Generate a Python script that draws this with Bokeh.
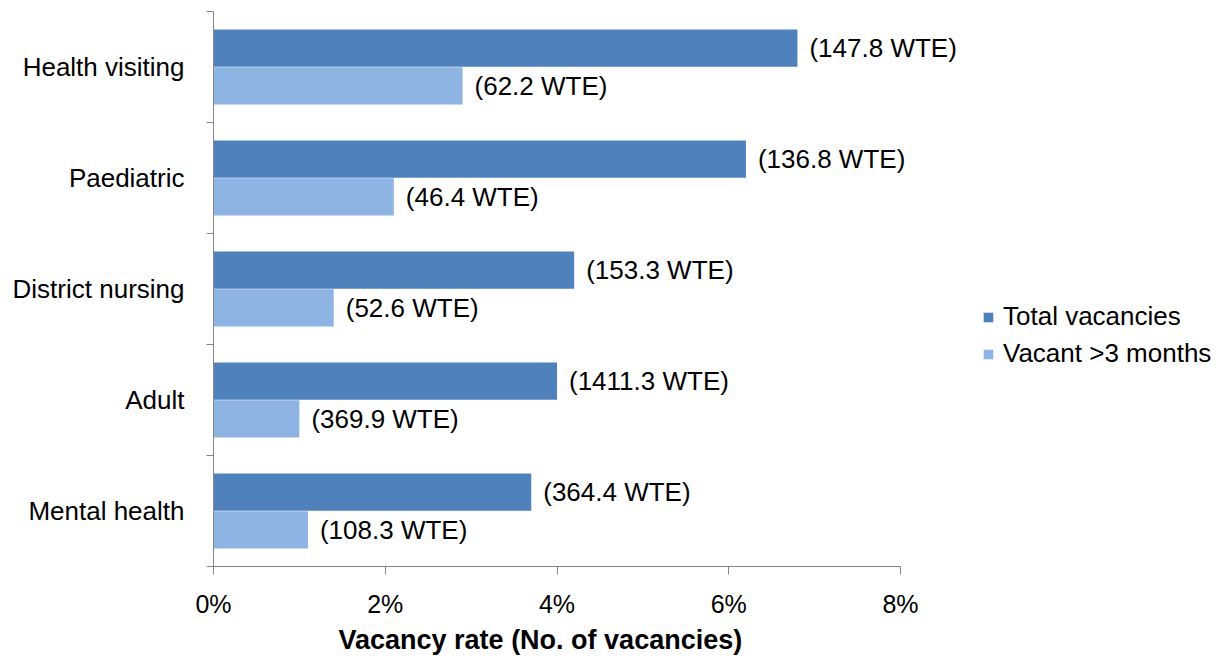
from bokeh.plotting import figure
from bokeh.models import ColumnDataSource, Range1d, FixedTicker, Legend, LegendItem, Title
from bokeh.core.properties import value
from bokeh.embed import file_html
from bokeh.resources import INLINE

categories = ["Mental health", "Adult", "District nursing", "Paediatric", "Health visiting"]
total_rate = [3.7, 4.0, 4.2, 6.2, 6.8]
vacant3_rate = [1.1, 1.0, 1.4, 2.1, 2.9]
total_wte = ["(364.4 WTE)", "(1411.3 WTE)", "(153.3 WTE)", "(136.8 WTE)", "(147.8 WTE)"]
vacant3_wte = ["(108.3 WTE)", "(369.9 WTE)", "(52.6 WTE)", "(46.4 WTE)", "(62.2 WTE)"]
x_ticks = [0, 2, 4, 6, 8]
x_max = 8

FONT = "Liberation Sans"
FS = "26px"
DARK = "#4F81BD"
LIGHT = "#8EB4E3"
AXIS = "#868686"

centers = [i + 0.5 for i in range(len(categories))]
off = 0.17
h = 0.335

src_t = ColumnDataSource(dict(y=[c + off for c in centers], r=total_rate, lab=total_wte))
src_v = ColumnDataSource(dict(y=[c - off for c in centers], r=vacant3_rate, lab=vacant3_wte))

# frame extends right to hold the legend; the x axis is bounded to 0..8%
FRAME_W = 1013
AXIS_W = 687
p = figure(frame_width=FRAME_W, frame_height=555, min_border_left=213, min_border_right=5,
           min_border_top=11, min_border_bottom=0,
           x_range=Range1d(0, x_max * FRAME_W / AXIS_W), y_range=Range1d(0, len(categories)),
           output_backend="svg", toolbar_location=None)
p.outline_line_color = None
p.xgrid.visible = False
p.ygrid.visible = False
p.background_fill_color = "white"
p.border_fill_color = "white"

rt = p.hbar(y="y", left=0, right="r", height=h, source=src_t, fill_color=DARK, line_color=None)
rv = p.hbar(y="y", left=0, right="r", height=h, source=src_v, fill_color=LIGHT, line_color=None)

p.text(x="r", y="y", text="lab", source=src_t, x_offset=12, text_baseline="middle",
       text_font=value(FONT), text_font_size=FS, text_color="black")
p.text(x="r", y="y", text="lab", source=src_v, x_offset=12, text_baseline="middle",
       text_font=value(FONT), text_font_size=FS, text_color="black")

# x axis
xa = p.xaxis[0]
xa.bounds = (0, x_max)
xa.ticker = FixedTicker(ticks=x_ticks, minor_ticks=[])
xa.major_label_overrides = {t: f"{t}%" for t in x_ticks}
xa.axis_line_color = AXIS
xa.major_tick_line_color = AXIS
xa.major_tick_out = 8
xa.major_tick_in = 0
xa.minor_tick_line_color = None
xa.major_label_text_font = FONT
xa.major_label_text_font_size = "25px"
xa.major_label_text_color = "black"
xa.major_label_standoff = 15

# axis title centred under the 0..8% axis, not the whole (wider) frame
xtitle = Title(text="Vacancy rate (No. of vacancies)", align="left", offset=125,
               text_font=FONT, text_font_style="bold", text_font_size="27px",
               text_color="black", standoff=5)
p.add_layout(xtitle, "below")

# y axis
ya = p.yaxis[0]
ya.ticker = FixedTicker(ticks=centers, minor_ticks=list(range(len(categories) + 1)))
ya.major_label_overrides = {c: n for c, n in zip(centers, categories)}
ya.axis_line_color = AXIS
ya.major_tick_line_color = None
ya.major_tick_out = 0
ya.major_tick_in = 0
ya.minor_tick_line_color = AXIS
ya.minor_tick_out = 7
ya.minor_tick_in = 0
ya.major_label_text_font = FONT
ya.major_label_text_font_size = FS
ya.major_label_text_color = "black"
ya.major_label_standoff = 22

legend = Legend(items=[LegendItem(label="Total vacancies", renderers=[rt]),
                       LegendItem(label="Vacant >3 months", renderers=[rv])],
                location=(769, 197), orientation="vertical",
                label_text_font=FONT, label_text_font_size=FS, label_text_color="black",
                glyph_width=12, glyph_height=12, label_standoff=9, spacing=6,
                padding=0, margin=0, border_line_color=None, background_fill_alpha=0,
                label_height=26)
p.add_layout(legend, "center")

open("out.html", "w").write(file_html(p, INLINE))
